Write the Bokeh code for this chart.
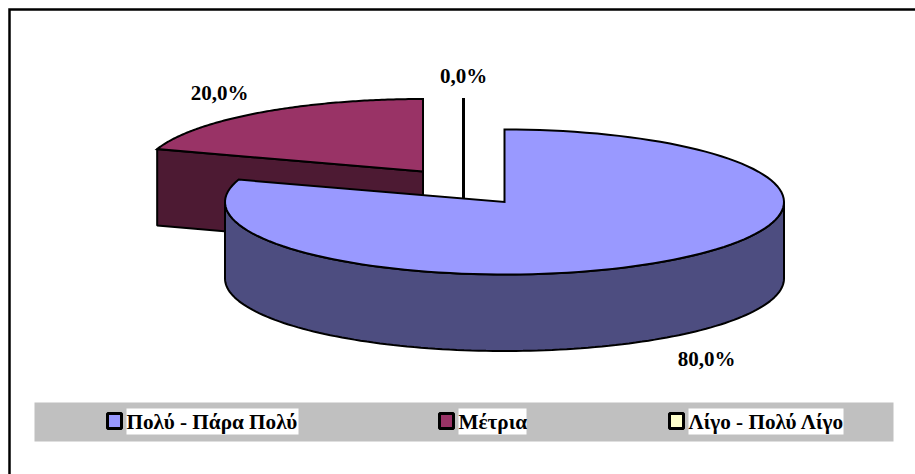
import numpy as np
from bokeh.embed import file_html
from bokeh.models import Range1d
from bokeh.plotting import figure
from bokeh.resources import INLINE
from bokeh.core.properties import value

# Survey answers and their shares (per cent)
categories = ["Πολύ - Πάρα Πολύ", "Μέτρια", "Λίγο - Πολύ Λίγο"]
shares = [80.0, 20.0, 0.0]
value_labels = ["80,0%", "20,0%", "0,0%"]
top_colors = ["#9999FF", "#993366", "#FFFFCC"]
side_colors = ["#4D4D80", "#4D1A33", "#80801A"]

# Layout of the tilted pie, in page pixels
RX, RY, DEPTH = 279.5, 72.5, 76.5
centers = [(504, 201.5), (422.5, 171), (463, 170)]
label_pos = [(706, 358), (219, 92), (463, 75)]
legend_swatch_x = [106, 438, 668]
legend_text_x = [126, 458, 688]
legend_text_w = [172, 68, 155]
FONT = value("Liberation Serif")

p = figure(width=915, height=474, output_backend="svg", toolbar_location=None,
           x_range=Range1d(0, 915), y_range=Range1d(474, 0),
           min_border=0, outline_line_color=None, background_fill_color="white",
           border_fill_color="white")
p.axis.visible = False
p.grid.visible = False


def arc(cx, cy, a0, a1, n=120):
    t = np.radians(np.linspace(a0, a1, n))
    return cx + RX * np.cos(t), cy - RY * np.sin(t)


# Slice angles run clockwise from twelve o'clock
angles = 90 - np.cumsum([0] + shares) * 3.6
spans = list(zip(angles[:-1], angles[1:]))

# Frame along the top and left of the chart area
p.line([916, 9, 9], [9, 9, 475], line_color="black", line_width=2.5,
       line_join="miter")

# Draw back to front: empty slice, middle slice, large slice
for i in [2, 1, 0]:
    cx, cy = centers[i]
    a0, a1 = spans[i]
    ax, ay = arc(cx, cy, a0, a1)
    if shares[i] == 0:
        p.line([ax[0], cx, cx], [ay[0], cy, cy + DEPTH],
               line_color="black", line_width=3)
        continue
    # Outer wall: the part of the rim on the near side of the ellipse
    lo, hi = min(a0, a1), max(a0, a1)
    wall = [(s, e) for s, e in [(-180, 0), (180, 360)]
            if max(s, lo) < min(e, hi)]
    for s, e in wall:
        wx, wy = arc(cx, cy, max(s, lo), min(e, hi))
        p.patch(np.r_[wx, wx[::-1]], np.r_[wy, wy[::-1] + DEPTH],
                fill_color=side_colors[i], line_color="black", line_width=2)
    # Cut face seen from the front, running from the rim to the centre
    if i == 1:
        p.patch([ax[0], cx, cx, ax[0]],
                [ay[0], cy, cy + DEPTH, ay[0] + DEPTH],
                fill_color=side_colors[i], line_color="black", line_width=2)
    p.patch(np.r_[cx, ax], np.r_[cy, ay], fill_color=top_colors[i],
            line_color="black", line_width=2, line_join="miter")

for (x, y), label in zip(label_pos, value_labels):
    p.text([x], [y], text=[label], text_font=FONT, text_font_style="bold",
           text_font_size="21px", text_align="center", text_baseline="middle",
           text_color="black")

# Legend band with swatches and white-backed labels
p.quad(left=[34], right=[893], top=[402], bottom=[441], fill_color="#C0C0C0",
       line_color=None)
for sx, tx, tw, color, name in zip(legend_swatch_x, legend_text_x, legend_text_w,
                                   top_colors, categories):
    p.quad(left=[tx], right=[tx + tw], top=[408], bottom=[434],
           fill_color="white", line_color=None)
    p.quad(left=[sx + 1], right=[sx + 15], top=[413], bottom=[428],
           fill_color=color, line_color="black", line_width=3)
    p.text([tx], [421], text=[name], text_font=FONT, text_font_style="bold",
           text_font_size="21.2px", text_align="left", text_baseline="middle",
           text_color="black")

open("out.html", "w").write(file_html(p, INLINE))
